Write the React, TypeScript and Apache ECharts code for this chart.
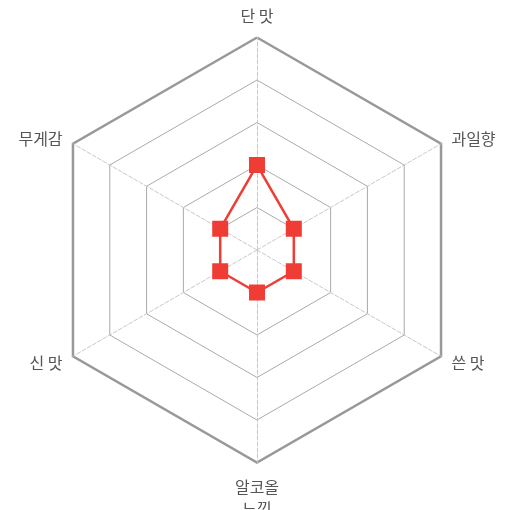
import React, { useEffect, useRef } from "react";
import * as echarts from "echarts";

const indicators = ["단 맛", "무게감", "신 맛", "알코올\n느낌", "쓴 맛", "과일향"];
const maxValue = 5;
const tasteValues = [2, 1, 1, 1, 1, 1];

export default function App() {
  const ref = useRef<HTMLDivElement>(null);
  useEffect(() => {
    if (!ref.current) return;
    const chart = echarts.init(ref.current, undefined, { renderer: "svg" });
    const indicator = indicators.map((name) => ({ name, max: maxValue, min: 0 }));
    chart.setOption({
      animation: false,
      radar: [
        {
          indicator,
          center: [257, 250],
          radius: 212.5,
          startAngle: 90,
          splitNumber: 5,
          shape: "polygon",
          axisName: {
            color: "#555",
            fontSize: 16,
            fontFamily: "Noto Sans CJK KR",
            lineHeight: 22,
          },
          nameGap: 12,
          splitArea: { show: false },
          splitLine: { lineStyle: { color: "#aaa", width: 1 } },
          axisLine: { lineStyle: { color: "#c8c8c8", type: "dashed", width: 1 } },
        },
        {
          indicator: indicators.map(() => ({ name: "", max: maxValue, min: 0 })),
          center: [257, 250],
          radius: 212.5,
          startAngle: 90,
          splitNumber: 1,
          shape: "polygon",
          axisName: { show: false },
          splitArea: { show: false },
          splitLine: { lineStyle: { color: "#999", width: 2.5 } },
          axisLine: { show: false },
        },
      ],
      series: [
        {
          type: "radar",
          radarIndex: 0,
          symbol: "rect",
          symbolSize: 16,
          lineStyle: { color: "#ef3d36", width: 2.5 },
          itemStyle: { color: "#ef3d36" },
          data: [{ value: tasteValues, name: "맛" }],
        },
      ],
    });
    return () => chart.dispose();
  }, []);
  return (
    <div
      ref={ref}
      style={{ position: "fixed", left: 0, top: 0, width: 509, height: 510 }}
    />
  );
}
